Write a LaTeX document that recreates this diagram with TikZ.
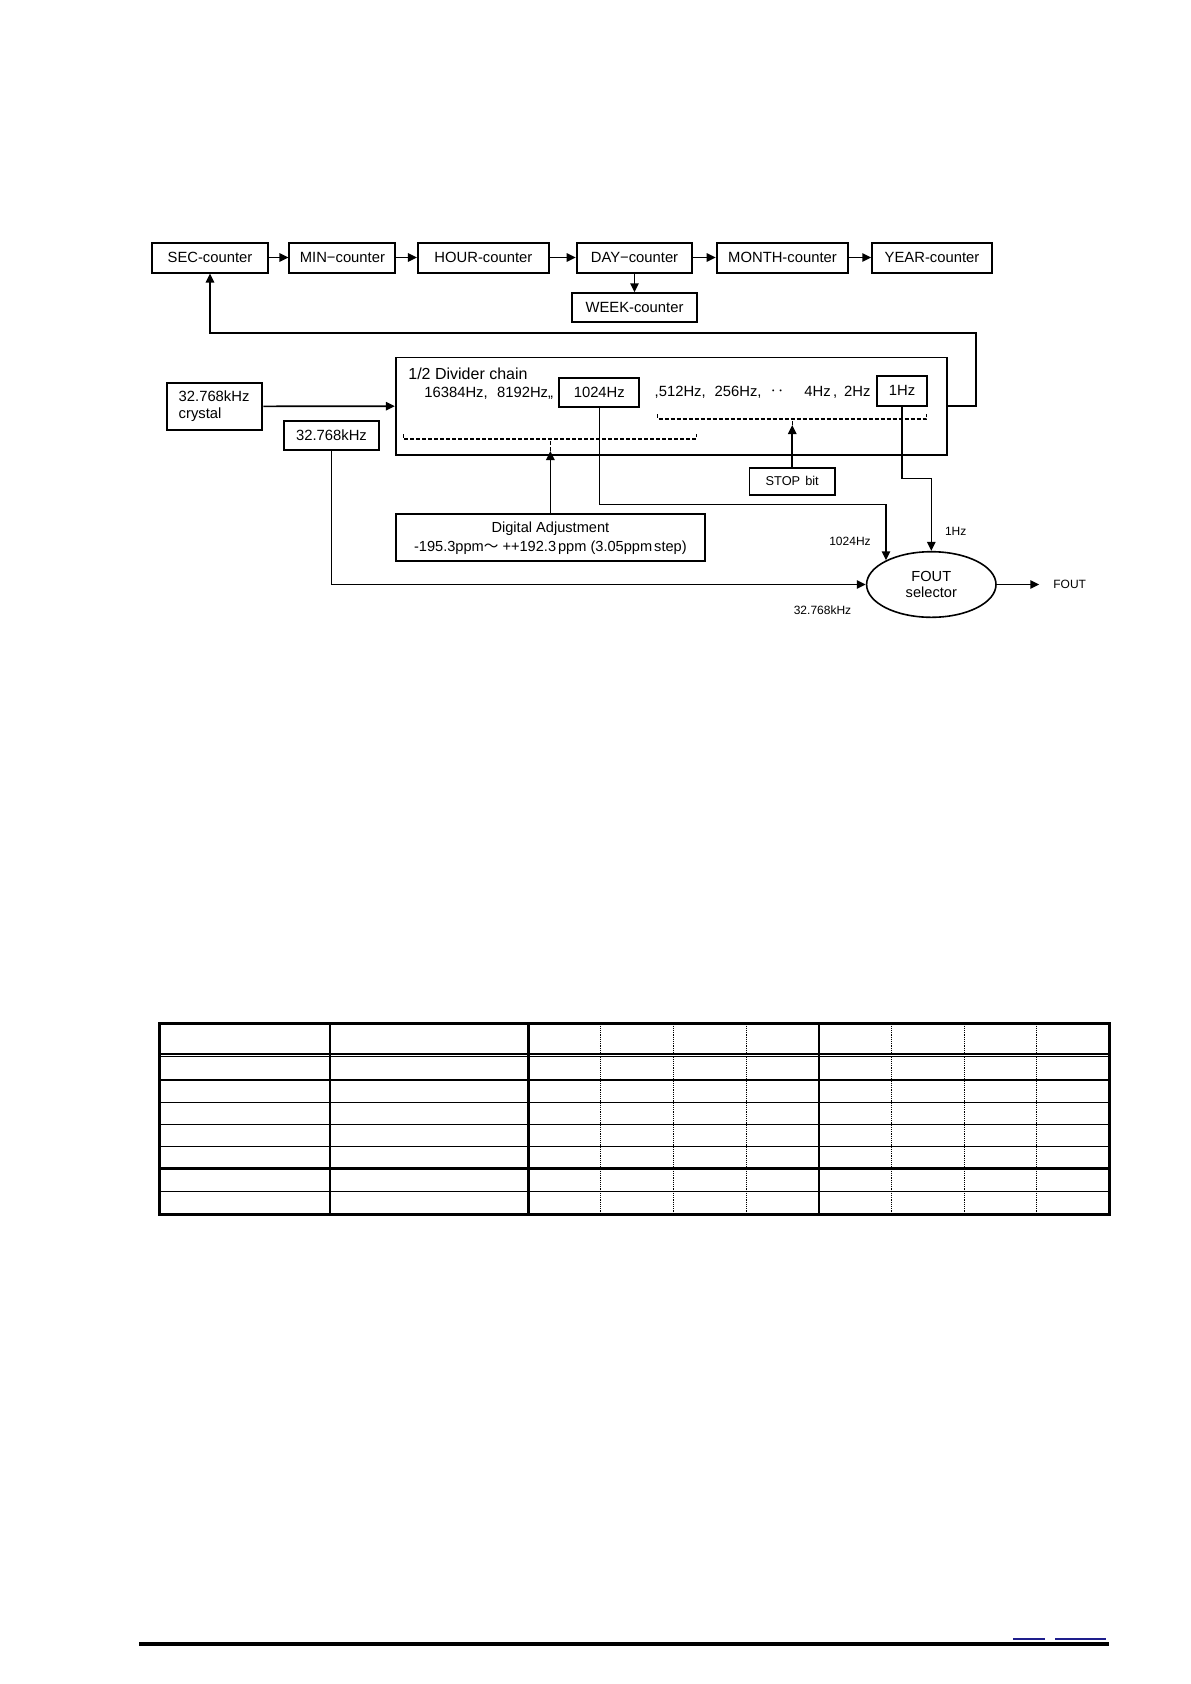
\documentclass[tikz,border=0pt]{standalone}
\usepackage{fontspec}
\setmainfont{Liberation Sans}
\newfontfamily\cjk{Noto Sans CJK JP}
\usetikzlibrary{arrows.meta,shapes.geometric}
\definecolor{linkblue}{RGB}{30,30,140}

\begin{document}
\begin{tikzpicture}[
    x=0.5bp,
    y=-0.5bp,
    every node/.style={inner sep=0pt, font=\fontsize{7.4bp}{8.7bp}\selectfont},
    ctr/.style={draw=black, line width=1bp, minimum height=15bp},
    tag/.style={font=\fontsize{6bp}{7bp}\selectfont},
    conn/.style={-{Triangle[length=4.5bp,width=4.2bp]}, line width=0.8bp},
    bracket/.style={line width=0.6bp, dash pattern=on 2bp off 1bp},
    gridthin/.style={line width=0.55bp},
    gridthick/.style={line width=1.4bp},
    griddot/.style={line width=0.75bp, dash pattern=on 0.6bp off 0.5bp}
  ]
    \path[use as bounding box, fill=white] (0,0) rectangle (1191,1684);

    % time counters
    \node[ctr, minimum width=57.5bp] (sec) at (210,257.5) {SEC-counter};
    \node[ctr, minimum width=53bp] (min) at (342.4,257.5) {MIN−counter};
    \node[ctr, minimum width=65.5bp] (hour) at (483.4,257.5) {HOUR-counter};
    \node[ctr, minimum width=57.8bp] (day) at (634.5,257.5) {DAY−counter};
    \node[ctr, minimum width=65.8bp] (month) at (782.5,257.5) {MONTH-counter};
    \node[ctr, minimum width=59.7bp] (year) at (932,257.5) {YEAR-counter};
    \node[ctr, minimum width=62.2bp, minimum height=14.5bp] (week) at (634.5,307.8) {WEEK-counter};

    \foreach \a/\b in {sec/min,min/hour,hour/day,day/month,month/year}
      \draw[conn] (\a) -- (\b);
    \draw[conn] (day) -- (week);

    % divider chain
    \node[draw, line width=0.85bp, minimum width=275.8bp, minimum height=48.85bp] (div) at (671.5,406.2) {};
    \node[anchor=base west, font=\fontsize{8bp}{9bp}\selectfont] (divtitle) at (408,379.5) {1/2 Divider chain};
    \node[anchor=base west, font=\fontsize{7.4bp}{8.7bp}\selectfont] (divhi) at (424,397.5) {16384Hz,\hspace{4.7bp}8192Hz,,};
    \node[ctr, minimum width=40bp, minimum height=14.8bp] (f1024) at (599.3,392.5) {1024Hz};
    \node[anchor=base west, font=\fontsize{7.4bp}{8.7bp}\selectfont] (divlo) at (654.3,396.7)
      {,512Hz,\hspace{4.5bp}256Hz,\hspace{4bp}{\cjk ‥}\hspace{10bp}4Hz\hspace{1.2bp},\hspace{3.5bp}2Hz};
    \node[ctr, minimum width=24.7bp, minimum height=14.85bp] (f1hz) at (902,390.8) {1Hz};

    \draw[bracket] (403.3,434) -- (403.3,439) -- (696.7,439) -- (696.7,434);
    \draw[bracket] (657.7,414) -- (657.7,419) -- (926.7,419) -- (926.7,414);
    \coordinate (adjtap) at (550.4,439);
    \coordinate (adjtip) at (550.4,451);
    \coordinate (stoptap) at (792.2,419);
    \coordinate (stoptip) at (792.2,425);

    % sources
    \node[ctr, text width=35.8bp, align=left, inner xsep=6bp, minimum height=23.65bp] (xtal) at (214.5,406.3) {32.768kHz\\crystal};
    \node[ctr, minimum width=47.2bp, minimum height=14.8bp] (clk) at (331.5,435.5) {32.768kHz};
    \node[ctr, line width=0.85bp, minimum width=42.85bp, minimum height=13.65bp, font=\fontsize{6.4bp}{7.5bp}\selectfont] (stop) at (792.2,481.3) {STOP\hspace{2.5bp}bit};
    \node[ctr, align=center, minimum width=154.65bp, minimum height=23.5bp, font=\fontsize{7.3bp}{9.5bp}\selectfont] (adj) at (550.4,537.8)
      {Digital Adjustment\\-195.3ppm{\cjk ～} ++192.3\hspace{1bp}ppm (3.05ppm\hspace{1bp}step)};

    \draw[conn] (xtal.east) -- (div.west);
    \draw[conn] (adj) -- (adjtip);
    \draw[bracket] (adjtip) -- (adjtap);
    \draw[conn] (stop) -- (stoptip);
    \draw[bracket] (stoptip) -- (stoptap);

    \coordinate (fbturn) at (976,333);
    \draw[conn] (div.east) -| (fbturn) -| (sec.south);

    % output selector
    \node[ellipse, draw, line width=0.8bp, minimum width=64.7bp, minimum height=32.8bp, align=center,
      font=\fontsize{7.3bp}{8.3bp}\selectfont] (fout) at (931.3,584.5) {FOUT\\selector};
    \coordinate (t1024) at (886,504.3);
    \coordinate (t1hz) at (931.3,478.3);
    \coordinate (foutend) at (1039.3,584.5);

    \draw[conn] (f1024.south) |- (t1024) -- (t1024 |- fout.152.7);
    \draw[conn] (f1hz.south) |- (t1hz) -- (fout.north);
    \draw[conn] (clk.south) |- (fout.west);
    \draw[conn] (fout.east) -- (foutend);

    \node[tag, anchor=west] (foutlbl) at (1053,584.5) {FOUT};
    \node[tag] (l1hz) at (955.7,531) {1Hz};
    \node[tag] (l1024) at (850,541.7) {1024Hz};
    \node[tag] (lclk) at (822.5,610) {32.768kHz};

    % empty table
    \foreach \y in {1054,1056.3,1102.3,1124.3,1146.3,1191.3}
      \draw[gridthin] (159.3,\y) -- (1109.3,\y);
    \foreach \y in {1080,1168.7}
      \draw[gridthick] (159.3,\y) -- (1109.3,\y);
    \foreach \x in {600.7,673.7,746.7,891.7,964.3,1036.7}
      \draw[griddot] (\x,1023.3) -- (\x,1214.3);
    \foreach \x in {330,528.3,819}
      \draw[gridthick] (\x,1023.3) -- (\x,1214.3);
    \draw[gridthick] (159.3,1023.3) rectangle (1109.3,1214.3);

    % footer rule
    \draw[line width=1.8bp] (139,1644) -- (1109,1644);
    \draw[linkblue, line width=1bp] (1013,1638.5) -- (1045,1638.5);
    \draw[linkblue, line width=1bp] (1055,1638.5) -- (1106,1638.5);
\end{tikzpicture}
\end{document}
